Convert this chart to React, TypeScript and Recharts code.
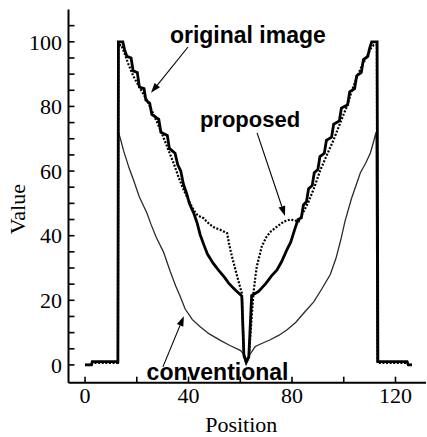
import { LineChart, Line, XAxis, YAxis, ReferenceDot, ReferenceLine } from 'recharts';

const original = [
  { x: 0, y: 0 }, { x: 2.5, y: 0 }, { x: 2.8, y: 1 }, { x: 12.7, y: 1 }, { x: 12.9, y: 100 },
  { x: 14.6, y: 100 }, { x: 15.3, y: 97.5 }, { x: 16.2, y: 95.5 }, { x: 17.8, y: 95 }, { x: 18.6, y: 91 },
  { x: 20.2, y: 90.5 }, { x: 21, y: 86 }, { x: 22.8, y: 85.5 }, { x: 23.5, y: 82 }, { x: 25, y: 81 },
  { x: 25.8, y: 77.5 }, { x: 28.5, y: 76 }, { x: 29.3, y: 72 }, { x: 31.8, y: 71 }, { x: 32.6, y: 67 },
  { x: 34.8, y: 65.5 }, { x: 35.8, y: 62 }, { x: 37, y: 60 }, { x: 38, y: 56 }, { x: 39.3, y: 53 },
  { x: 40.3, y: 50 }, { x: 42, y: 47 }, { x: 43.3, y: 44 }, { x: 44.5, y: 40.3 }, { x: 46, y: 37 },
  { x: 47.3, y: 34.3 }, { x: 49.5, y: 31.5 }, { x: 51.5, y: 29.4 }, { x: 54, y: 27 }, { x: 55.5, y: 25.3 },
  { x: 58, y: 23.3 }, { x: 60.6, y: 21.3 }, { x: 61.4, y: 3 }, { x: 62.3, y: 0.8 }, { x: 63.3, y: 2.5 },
  { x: 64.4, y: 21.5 }, { x: 67, y: 22.7 }, { x: 70, y: 25.3 }, { x: 72, y: 27.5 }, { x: 74.2, y: 29.4 },
  { x: 76, y: 32 }, { x: 78, y: 35.6 }, { x: 79.5, y: 38 }, { x: 81, y: 41.8 }, { x: 82.3, y: 45 },
  { x: 83.6, y: 45.5 }, { x: 84.4, y: 49.5 }, { x: 85.6, y: 50.5 }, { x: 86.4, y: 54.5 }, { x: 87.8, y: 55.5 },
  { x: 88.6, y: 59.5 }, { x: 90, y: 60.5 }, { x: 90.8, y: 64.5 }, { x: 92.5, y: 65.5 }, { x: 93.3, y: 69.5 },
  { x: 95.3, y: 70.5 }, { x: 96.1, y: 74.5 }, { x: 98.3, y: 75.5 }, { x: 99.1, y: 79.5 }, { x: 101.5, y: 80.5 },
  { x: 102.3, y: 84.5 }, { x: 104.2, y: 85.5 }, { x: 105, y: 89.5 }, { x: 106.8, y: 90.5 }, { x: 107.6, y: 94.5 },
  { x: 109.3, y: 95.5 }, { x: 110, y: 98 }, { x: 110.8, y: 100 }, { x: 112.9, y: 100 }, { x: 113.2, y: 1 },
  { x: 124.5, y: 1 }, { x: 125, y: 0 }, { x: 126.4, y: 0 },
];

const proposed = [
  { x: 0, y: 0 }, { x: 2.5, y: 0 }, { x: 2.8, y: 0.6 }, { x: 12.7, y: 0.6 }, { x: 12.9, y: 99 },
  { x: 14, y: 99 }, { x: 15, y: 97 }, { x: 16.8, y: 93 }, { x: 18.7, y: 89.3 }, { x: 21, y: 86 },
  { x: 23.9, y: 82 }, { x: 26.5, y: 77.5 }, { x: 29, y: 73 }, { x: 31.5, y: 68 }, { x: 34.2, y: 62.5 },
  { x: 36.2, y: 58 }, { x: 38.1, y: 54.2 }, { x: 40, y: 51 }, { x: 41.9, y: 48 }, { x: 43.5, y: 46.3 },
  { x: 45.8, y: 45.4 }, { x: 48, y: 43.6 }, { x: 50, y: 42.5 }, { x: 52.3, y: 41.8 }, { x: 54.9, y: 40.8 },
  { x: 55.8, y: 37 }, { x: 56.8, y: 33.5 }, { x: 58.8, y: 27.4 }, { x: 60.6, y: 22.2 }, { x: 61.4, y: 3 },
  { x: 62.3, y: 0.8 }, { x: 63.3, y: 2.5 }, { x: 65.1, y: 22.2 }, { x: 65.8, y: 27 }, { x: 66.4, y: 30.5 },
  { x: 68.3, y: 36.6 }, { x: 70, y: 39.5 }, { x: 71.8, y: 41.3 }, { x: 74.5, y: 43 }, { x: 76.9, y: 44.4 },
  { x: 79.4, y: 45 }, { x: 82.6, y: 44.4 }, { x: 84.5, y: 47.5 }, { x: 86.4, y: 50.5 }, { x: 88.4, y: 54.5 },
  { x: 91, y: 60.4 }, { x: 93.5, y: 65 }, { x: 96.1, y: 69.7 }, { x: 98.7, y: 75 }, { x: 101.2, y: 80 },
  { x: 103.2, y: 85 }, { x: 105.2, y: 89.3 }, { x: 107, y: 92.5 }, { x: 109, y: 95.5 }, { x: 110.5, y: 98 },
  { x: 111.6, y: 99 }, { x: 112.8, y: 99 }, { x: 113.1, y: 0.6 }, { x: 124.5, y: 0.6 }, { x: 125, y: 0 },
  { x: 126.4, y: 0 },
];

const conventional = [
  { x: 12.7, y: 1 }, { x: 12.9, y: 72 }, { x: 13.5, y: 70.5 }, { x: 15, y: 66 }, { x: 17, y: 61 },
  { x: 18.7, y: 57.3 }, { x: 21, y: 52 }, { x: 23.9, y: 47 }, { x: 25.5, y: 43.5 }, { x: 27.5, y: 39.5 },
  { x: 30.3, y: 35 }, { x: 32.9, y: 29 }, { x: 35, y: 24.5 }, { x: 36.8, y: 21.2 }, { x: 38.7, y: 17.3 },
  { x: 41.5, y: 14 }, { x: 44.5, y: 11.8 }, { x: 48, y: 9.6 }, { x: 52.3, y: 7.6 }, { x: 56, y: 6 },
  { x: 60, y: 4.5 }, { x: 61.8, y: 3 }, { x: 62.6, y: 1.3 }, { x: 63.5, y: 3 }, { x: 65.8, y: 5.7 },
  { x: 68.5, y: 6.7 }, { x: 71.6, y: 7.8 }, { x: 75, y: 9.2 }, { x: 78.1, y: 10.9 }, { x: 81.5, y: 13.2 },
  { x: 84.5, y: 16 }, { x: 88.4, y: 19.5 }, { x: 91.5, y: 23.5 }, { x: 94.8, y: 28 }, { x: 97, y: 33 },
  { x: 98.8, y: 38.5 }, { x: 100.5, y: 44.5 }, { x: 103, y: 51.5 }, { x: 106.4, y: 59.4 }, { x: 108.5, y: 62.5 },
  { x: 110.3, y: 65.6 }, { x: 111.5, y: 69 }, { x: 112.5, y: 72 }, { x: 112.9, y: 1 },
];

const xTicks = [0, 20, 40, 60, 80, 100, 120];
const yTicks = [0, 5, 10, 15, 20, 25, 30, 35, 40, 45, 50, 55, 60, 65, 70, 75, 80, 85, 90, 95, 100, 105];

// annotation text anchors (start of text, baseline) and arrows, in data units
const notes = [
  { text: 'original image', x: 32.8, y: 99.5, size: 23 },
  { text: 'proposed', x: 44.4, y: 73.7, size: 22 },
  { text: 'conventional', x: 23.8, y: -4.7, size: 23 },
];
const arrows = [
  { from: { x: 39.8, y: 98.4 }, to: { x: 25.5, y: 84.2 } },
  { from: { x: 66.5, y: 71.8 }, to: { x: 77.3, y: 46.1 } },
  { from: { x: 30.1, y: -0.6 }, to: { x: 38.2, y: 15.1 } },
];

const serif = 'Liberation Serif, Times New Roman, serif';
const sans = 'Liberation Sans, Arial, sans-serif';

function ArrowShape(props: any) {
  const { x1, y1, x2, y2 } = props;
  const a = Math.atan2(y2 - y1, x2 - x1);
  const len = 10;
  const half = 3.5;
  const bx = x2 - len * Math.cos(a);
  const by = y2 - len * Math.sin(a);
  const px = -Math.sin(a) * half;
  const py = Math.cos(a) * half;
  return (
    <g>
      <line x1={x1} y1={y1} x2={bx} y2={by} stroke="#000" strokeWidth={1.1} />
      <polygon points={`${x2},${y2} ${bx + px},${by + py} ${bx - px},${by - py}`} fill="#000" />
    </g>
  );
}

export default function App() {
  return (
    <div style={{ position: 'absolute', left: 0, top: 0, background: '#fff' }}>
      <LineChart width={427} height={437} margin={{ top: 9.5, right: 1, bottom: 0, left: 0 }}>
        <XAxis
          type="number"
          dataKey="x"
          domain={[-6.4, 131.8]}
          allowDataOverflow
          ticks={xTicks}
          interval={0}
          height={54.3}
          tickSize={-6}
          tickMargin={10.5}
          tickFormatter={(v: number) => (v % 40 === 0 ? String(v) : '')}
          tick={{ fill: '#000', fontSize: 22, fontFamily: serif }}
          axisLine={{ stroke: '#000', strokeWidth: 2 }}
          tickLine={{ stroke: '#000', strokeWidth: 1.6 }}
          label={(p: any) => {
            const vb = p.viewBox || { x: 68.5, y: 382.7, width: 357.5 };
            return (
              <text x={vb.x + vb.width / 2 - 6} y={vb.y + 49} textAnchor="middle" fontSize={22} fontFamily={serif} fill="#000">
                Position
              </text>
            );
          }}
        />
        <XAxis
          xAxisId="top"
          orientation="top"
          type="number"
          dataKey="x"
          domain={[-6.4, 131.8]}
          allowDataOverflow
          ticks={xTicks}
          interval={0}
          height={0}
          tickSize={-6}
          tick={false}
          axisLine={{ stroke: '#000', strokeWidth: 2 }}
          tickLine={{ stroke: '#000', strokeWidth: 1.6 }}
        />
        <YAxis
          type="number"
          domain={[-5.5, 110]}
          allowDataOverflow
          ticks={yTicks}
          interval={0}
          width={68.5}
          tickSize={-6}
          tickMargin={12.5}
          tickFormatter={(v: number) => (v % 20 === 0 ? String(v) : '')}
          tick={{ fill: '#000', fontSize: 22, fontFamily: serif }}
          axisLine={{ stroke: '#000', strokeWidth: 2 }}
          tickLine={{ stroke: '#000', strokeWidth: 1.6 }}
          label={(p: any) => {
            const vb = p.viewBox || { x: 0, y: 9.5, height: 373.2 };
            const cx = vb.x + 25;
            const cy = vb.y + vb.height / 2 + 13;
            return (
              <text x={cx} y={cy} transform={`rotate(-90, ${cx}, ${cy})`} textAnchor="middle" fontSize={22} fontFamily={serif} fill="#000">
                Value
              </text>
            );
          }}
        />
        <YAxis
          yAxisId="right"
          orientation="right"
          type="number"
          domain={[-5.5, 110]}
          allowDataOverflow
          ticks={yTicks}
          interval={0}
          width={0}
          tickSize={-6}
          tick={false}
          axisLine={{ stroke: '#000', strokeWidth: 2 }}
          tickLine={{ stroke: '#000', strokeWidth: 1.6 }}
        />

        <Line data={conventional} dataKey="y" type="linear" stroke="#2a2a2a" strokeWidth={1.3} dot={false} isAnimationActive={false} />
        <Line data={proposed} dataKey="y" type="linear" stroke="#000" strokeWidth={2.2} strokeDasharray="2 1.6" dot={false} isAnimationActive={false} />
        <Line data={original} dataKey="y" type="linear" stroke="#000" strokeWidth={2.8} strokeLinejoin="miter" dot={false} isAnimationActive={false} />

        {arrows.map((a, i) => (
          <ReferenceLine key={`arrow-${i}`} segment={[a.from, a.to]} shape={ArrowShape} />
        ))}
        {notes.map((n) => (
          <ReferenceDot
            key={n.text}
            x={n.x}
            y={n.y}
            r={1}
            shape={(p: any) => (
              <text x={p.cx} y={p.cy} fontSize={n.size} fontWeight="bold" fontFamily={sans} fill="#000">
                {n.text}
              </text>
            )}
          />
        ))}
      </LineChart>
    </div>
  );
}
